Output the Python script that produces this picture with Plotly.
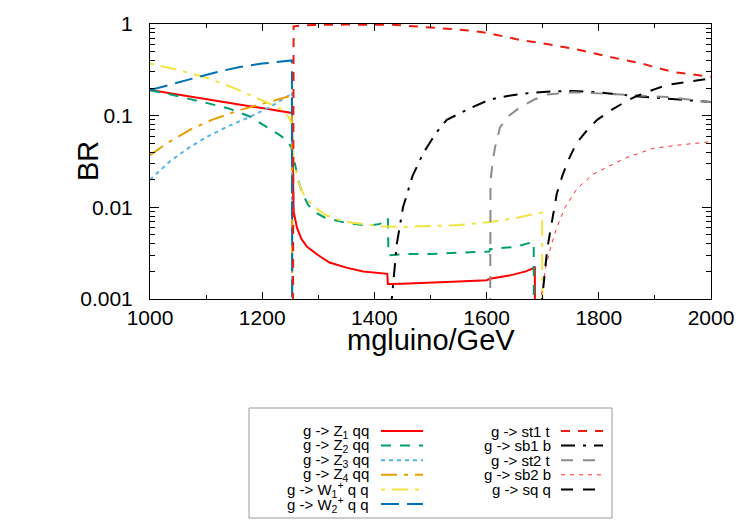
import plotly.graph_objects as go

# ---------------- data ----------------
x_z1 = [1000, 1050, 1100, 1150, 1200, 1230, 1253, 1256, 1262, 1270, 1280, 1300, 1320, 1350, 1380, 1423, 1424,
        1450, 1500, 1550, 1600, 1606, 1640, 1670, 1686, 1687]
y_z1 = [0.19, 0.17, 0.152, 0.135, 0.121, 0.114, 0.107, 0.009, 0.006, 0.0045, 0.0037, 0.003, 0.0025, 0.0022, 0.002,
        0.00188, 0.00146, 0.00147, 0.0015, 0.00155, 0.0016, 0.00166, 0.0018, 0.002, 0.0022, 1e-6]

x_z2 = [1000, 1041, 1102, 1140, 1178, 1208, 1230, 1244, 1252, 1256, 1260, 1265, 1272, 1282, 1295, 1312, 1348, 1389,
        1410, 1419, 1424, 1425, 1460, 1500, 1550, 1605, 1606, 1650, 1684, 1685]
y_z2 = [0.19, 0.168, 0.137, 0.12, 0.098, 0.076, 0.062, 0.054, 0.045, 0.035, 0.026, 0.019, 0.014, 0.0106, 0.0088,
        0.0077, 0.0068, 0.0063, 0.0066, 0.0073, 0.0077, 0.003, 0.0031, 0.0031, 0.0032, 0.0033, 0.0035, 0.0037,
        0.0042, 1e-6]

x_z3 = [1000, 1020, 1036, 1070, 1102, 1140, 1178, 1215, 1250, 1253, 1254]
y_z3 = [0.02, 0.026, 0.032, 0.045, 0.059, 0.077, 0.097, 0.125, 0.17, 0.18, 1e-6]

x_z4 = [1000, 1030, 1071, 1110, 1160, 1214, 1250, 1253, 1254]
y_z4 = [0.037, 0.05, 0.07, 0.09, 0.115, 0.141, 0.164, 0.167, 1e-6]

x_w1 = [1000, 1050, 1100, 1150, 1191, 1226, 1240, 1248, 1253, 1256, 1260, 1264, 1276, 1294, 1312, 1340, 1360, 1414,
        1450, 1500, 1550, 1606, 1650, 1699, 1700]
y_w1 = [0.37, 0.315, 0.26, 0.2, 0.155, 0.125, 0.11, 0.095, 0.08, 0.032, 0.025, 0.019, 0.013, 0.010, 0.0083, 0.0072,
        0.0068, 0.0062, 0.0061, 0.0062, 0.0064, 0.0069, 0.0076, 0.0088, 1e-6]

x_w2 = [1000, 1040, 1084, 1120, 1160, 1200, 1253, 1254]
y_w2 = [0.19, 0.22, 0.26, 0.3, 0.34, 0.37, 0.40, 1e-6]

x_st1 = [1254, 1255, 1256, 1270, 1300, 1350, 1400, 1431, 1450, 1480, 1512, 1558, 1590, 1618, 1660, 1718, 1766, 1825,
         1873, 1932, 2000]
y_st1 = [1e-6, 0.62, 0.94, 0.965, 0.98, 0.985, 0.985, 0.98, 0.965, 0.94, 0.905, 0.86, 0.82, 0.76, 0.67, 0.59, 0.52,
         0.43, 0.375, 0.30, 0.265]

x_sb1 = [1428, 1431, 1440, 1451, 1468, 1487, 1510, 1529, 1570, 1606, 1640, 1677, 1720, 1754, 1800, 1861, 1930, 2000]
y_sb1 = [1e-6, 0.001, 0.004, 0.01, 0.022, 0.039, 0.065, 0.09, 0.12, 0.15, 0.165, 0.177, 0.184, 0.186, 0.18, 0.164,
         0.152, 0.141]

x_st2 = [1605, 1606, 1607, 1612, 1615, 1624, 1640, 1660, 1685, 1708, 1754, 1825, 1922, 2000]
y_st2 = [1e-6, 0.0008, 0.02, 0.035, 0.045, 0.075, 0.1, 0.124, 0.15, 0.17, 0.18, 0.172, 0.16, 0.14]

x_sb2 = [1695, 1697, 1705, 1715, 1725, 1740, 1761, 1790, 1815, 1850, 1897, 1945, 2000]
y_sb2 = [1e-6, 0.001, 0.0022, 0.0038, 0.006, 0.01, 0.016, 0.023, 0.0275, 0.035, 0.044, 0.048, 0.052]

x_sq = [1697, 1699, 1708, 1718, 1725, 1735, 1745, 1760, 1778, 1797, 1825, 1850, 1868, 1900, 1922, 1960, 2000]
y_sq = [1e-6, 0.001, 0.0035, 0.008, 0.014, 0.022, 0.032, 0.05, 0.068, 0.09, 0.118, 0.145, 0.164, 0.195, 0.216,
        0.235, 0.255]

labels = ["g -> Z<sub>1</sub> qq", "g -> Z<sub>2</sub> qq", "g -> Z<sub>3</sub> qq", "g -> Z<sub>4</sub> qq",
          "g -> W<sub>1</sub><sup>+</sup> q q", "g -> W<sub>2</sub><sup>+</sup> q q",
          "g -> st1 t", "g -> sb1 b", "g -> st2 t", "g -> sb2 b", "g -> sq q"]

x_ticks = [1000, 1200, 1400, 1600, 1800, 2000]
y_ticks = [0.001, 0.01, 0.1, 1]
y_ticktext = ["0.001", "0.01", "0.1", "1"]

# ---------------- styles ----------------
series = [
    (x_z1, y_z1, "#ff0000", "solid", 2),
    (x_z2, y_z2, "#009e73", "10px,9px", 2),
    (x_z3, y_z3, "#56b4e9", "4px,4px", 2),
    (x_z4, y_z4, "#e69f00", "16px,7px,4px,7px", 2),
    (x_w1, y_w1, "#f0e442", "4px,7px,16px,7px", 2),
    (x_w2, y_w2, "#0072b2", "18px,8px", 2),
    (x_st1, y_st1, "#ee1c10", "9px,8px", 2),
    (x_sb1, y_sb1, "#000000", "14px,8px,3px,8px", 2),
    (x_st2, y_st2, "#8c8c8c", "12px,10px", 2),
    (x_sb2, y_sb2, "#ff2a2a", "4px,5px", 1),
    (x_sq, y_sq, "#000000", "12px,10px", 2),
]

FONT = "Liberation Sans, Arial, sans-serif"
W, H = 750, 525
L, R, T, B = 150, 39, 24, 226
PW, PH = W - L - R, H - T - B


def px(xp):
    return (xp - L) / PW


def py(yp):
    return (H - B - yp) / PH


fig = go.Figure()
for (xs, ys, col, dash, lw) in series:
    fig.add_trace(go.Scatter(x=xs, y=ys, mode="lines", showlegend=False,
                             line=dict(color=col, dash=dash, width=lw)))

minor_y = [k * 10 ** e for e in (-3, -2, -1) for k in range(2, 10)]

fig.update_xaxes(range=[1000, 2000], tickvals=x_ticks, ticks="inside", ticklen=7, tickcolor="black",
                 showline=True, linecolor="black", linewidth=1, mirror="allticks", showgrid=False,
                 zeroline=False, tickfont=dict(family=FONT, size=21, color="black"),
                 minor=dict(dtick=100, ticks="inside", ticklen=4, tickcolor="black", showgrid=False))
fig.update_yaxes(type="log", range=[-3, 0], tickvals=y_ticks, ticktext=y_ticktext, ticks="inside", ticklen=9,
                 tickcolor="black", showline=True, linecolor="black", linewidth=1, mirror="allticks",
                 showgrid=False, zeroline=False, tickfont=dict(family=FONT, size=21, color="black"),
                 ticklabelstandoff=12,
                 minor=dict(tickvals=minor_y, ticks="inside", ticklen=5, tickcolor="black", showgrid=False))

annotations = [
    dict(text="mgluino/GeV", x=px(431), y=py(340), xref="paper", yref="paper", showarrow=False,
         xanchor="center", yanchor="middle", font=dict(family=FONT, size=29, color="black")),
    dict(text="BR", x=px(88), y=py(161), xref="paper", yref="paper", showarrow=False, textangle=-90,
         xanchor="center", yanchor="middle", font=dict(family=FONT, size=29, color="black")),
]
shapes = [dict(type="rect", xref="paper", yref="paper", x0=px(249), x1=px(612), y0=py(408), y1=py(518),
               line=dict(color="#9a9a9a", width=1), fillcolor="rgba(0,0,0,0)")]

row0, dy = 431, 14.6
for i, (lab, s) in enumerate(zip(labels, series)):
    if i < 6:
        tx, sx0, sx1, yy = 371, 381, 423, row0 + dy * i
    else:
        tx, sx0, sx1, yy = 553, 561, 603, row0 + dy * (i - 6)
    annotations.append(dict(text=lab, x=px(tx), y=py(yy), xref="paper", yref="paper", showarrow=False,
                            xanchor="right", yanchor="middle",
                            font=dict(family=FONT, size=15, color="black")))
    shapes.append(dict(type="line", xref="paper", yref="paper", x0=px(sx0), x1=px(sx1), y0=py(yy), y1=py(yy),
                       line=dict(color=s[2], dash=s[3], width=s[4])))

fig.update_layout(width=W, height=H, margin=dict(l=L, r=R, t=T, b=B, autoexpand=False),
                  plot_bgcolor="white", paper_bgcolor="white", annotations=annotations, shapes=shapes,
                  font=dict(family=FONT, color="black"))

fig.write_html("out.html")
